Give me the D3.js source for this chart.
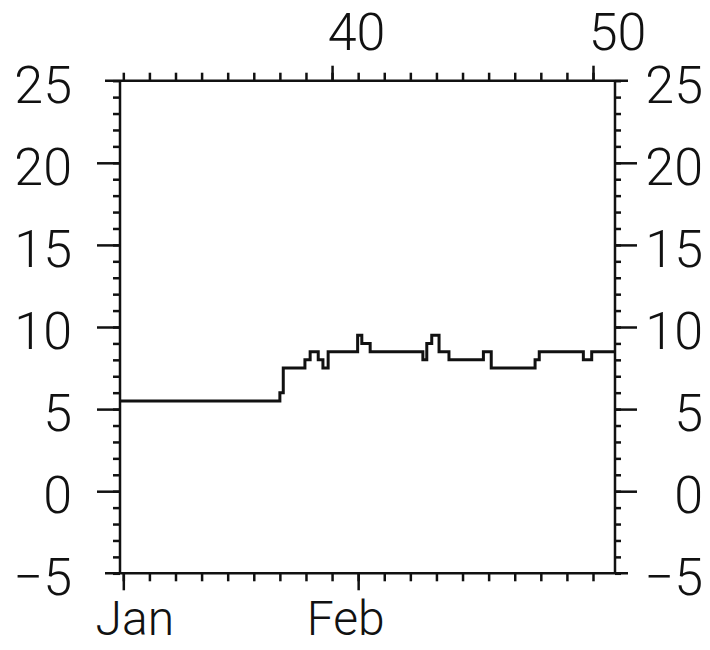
<!DOCTYPE html>
<html lang="en">

<head>
  <meta charset="UTF-8">
  <title>Step record</title>
  <script src="https://d3js.org/d3.v7.min.js"></script>
  <style>
    body {
      margin: 0;
      background: white;
    }

    svg text {
      font-family: "Roboto", "Liberation Sans", sans-serif;
      font-weight: 300;
      font-size: 52px;
      fill: #111;
    }

    .axis line {
      stroke: #111;
      stroke-width: 2.5;
    }
  </style>
</head>

<body>
  <script>
    // top axis (numbered ticks) and bottom axis (months) share the same tick grid
    const topTicks = d3.range(32, 51);
    const topMajor = [40, 50];
    const monthLabels = ["Jan", "Feb"];
    const monthTicks = [32, 41];
    const yMinorTicks = d3.range(-5, 26);
    const yMajorTicks = [-5, 0, 5, 10, 15, 20, 25];

    // step trace: level starts at stepStart[i] and holds stepLevel[i]
    const stepStart = [31.87, 38.0, 38.13, 38.96, 39.16, 39.47, 39.65, 39.85, 40.98, 41.14, 41.46,
      43.48, 43.63, 43.82, 44.1, 44.48, 45.8, 46.1, 47.78, 47.94, 49.63, 49.95, 50.84];
    const stepLevel = [5.5, 6.0, 7.5, 8.0, 8.5, 8.0, 7.5, 8.5, 9.5, 9.0, 8.5,
      8.0, 9.0, 9.5, 8.5, 8.0, 8.5, 7.5, 8.0, 8.5, 8.0, 8.5, 8.5];

    const width = 710;
    const height = 650;

    const x = d3.scaleLinear().domain([31.873, 50.843]).range([120, 615]);
    const y = d3.scaleLinear().domain([-5, 25]).range([573.3, 80.7]);

    const svg = d3.select("body")
      .append("svg")
      .attr("width", width)
      .attr("height", height);

    const [x0, x1] = x.range();
    const [yb, yt] = y.range();

    // frame, top and bottom lines run a bit past the sides
    const frame = svg.append("g").attr("stroke", "#111").attr("stroke-width", 2.5).attr("fill", "none");
    frame.append("line").attr("x1", x0 - 15).attr("x2", x1 + 13).attr("y1", yt).attr("y2", yt);
    frame.append("line").attr("x1", x0 - 15).attr("x2", x1 + 13).attr("y1", yb).attr("y2", yb);
    frame.append("line").attr("x1", x0).attr("x2", x0).attr("y1", yt).attr("y2", yb);
    frame.append("line").attr("x1", x1).attr("x2", x1).attr("y1", yt).attr("y2", yb);

    function drawAxis(axis, transform) {
      const g = svg.append("g")
        .attr("class", "axis")
        .attr("transform", transform)
        .call(axis);
      g.select(".domain").remove();
      return g;
    }

    // minor ticks
    drawAxis(d3.axisTop(x).tickValues(topTicks).tickSize(8).tickFormat(""), `translate(0,${yt})`);
    drawAxis(d3.axisBottom(x).tickValues(topTicks).tickSize(8).tickFormat(""), `translate(0,${yb})`);
    drawAxis(d3.axisLeft(y).tickValues(yMinorTicks).tickSize(7).tickFormat(""), `translate(${x0},0)`);
    drawAxis(d3.axisRight(y).tickValues(yMinorTicks).tickSize(6).tickFormat(""), `translate(${x1},0)`);

    // major ticks with labels
    const topAxis = drawAxis(d3.axisTop(x).tickValues(topMajor).tickSize(15).tickPadding(16)
      .tickFormat(d3.format("d")), `translate(0,${yt})`);
    topAxis.selectAll("text").attr("dx", 24).attr("font-size", null);

    // month labels a touch smaller so they stay inside the bottom edge
    const bottomAxis = drawAxis(d3.axisBottom(x).tickValues(monthTicks).tickSize(17).tickPadding(11)
      .tickFormat((d, i) => monthLabels[i]), `translate(0,${yb})`);
    bottomAxis.selectAll("text")
      .attr("dx", (d, i) => i == 0 ? 11 : -13)
      .attr("font-size", null)
      .style("font-size", "48px");
    bottomAxis.selectAll("line").attr("stroke-width", (d, i) => i == 0 ? 4.5 : 2.5);

    const minus = d => d < 0 ? "\u2212" + Math.abs(d) : "" + d;

    drawAxis(d3.axisLeft(y).tickValues(yMajorTicks.filter(d => d > -5 && d < 25))
      .tickSize(23).tickFormat(""), `translate(${x0},0)`);
    drawAxis(d3.axisRight(y).tickValues(yMajorTicks.filter(d => d > -5 && d < 25))
      .tickSize(22).tickFormat(""), `translate(${x1},0)`);

    // value labels on both sides
    svg.append("g")
      .selectAll("text")
      .data(yMajorTicks)
      .join("text")
      .attr("x", x0 - 48)
      .attr("y", d => y(d))
      .attr("dy", "0.42em")
      .attr("text-anchor", "end")
      .text(minus);

    svg.append("g")
      .selectAll("text")
      .data(yMajorTicks)
      .join("text")
      .attr("x", x1 + 88)
      .attr("y", d => y(d))
      .attr("dy", "0.42em")
      .attr("text-anchor", "end")
      .text(minus);

    const stepData = stepStart.map((s, i) => ({ s: s, v: stepLevel[i] }));

    const line = d3.line()
      .x(d => x(d.s))
      .y(d => y(d.v))
      .curve(d3.curveStepAfter);

    svg.append("path")
      .datum(stepData)
      .attr("fill", "none")
      .attr("stroke", "#111")
      .attr("stroke-width", 3)
      .attr("d", line);
  </script>
</body>

</html>
